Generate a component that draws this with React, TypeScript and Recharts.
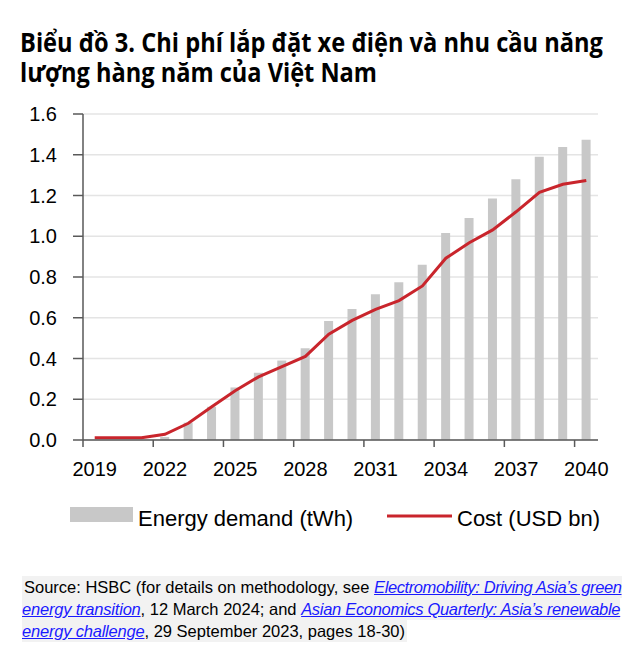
import { useLayoutEffect, useRef, useState } from 'react';
import { Bar, CartesianGrid, ComposedChart, Line, XAxis, YAxis } from 'recharts';

const years = [
  '2019', '2020', '2021', '2022', '2023', '2024', '2025', '2026', '2027', '2028', '2029',
  '2030', '2031', '2032', '2033', '2034', '2035', '2036', '2037', '2038', '2039', '2040',
];
const energyDemand = [
  0, 0, 0, 0.015, 0.085, 0.163, 0.258, 0.33, 0.39, 0.45, 0.584,
  0.643, 0.715, 0.774, 0.86, 1.016, 1.09, 1.185, 1.28, 1.39, 1.438, 1.474,
];
const cost = [
  0.011, 0.011, 0.011, 0.028, 0.082, 0.163, 0.242, 0.31, 0.36, 0.41, 0.519,
  0.587, 0.641, 0.684, 0.756, 0.892, 0.968, 1.031, 1.12, 1.216, 1.255, 1.274,
];
const yTicks = [0, 0.2, 0.4, 0.6, 0.8, 1.0, 1.2, 1.4, 1.6];

const data = years.map((year, i) => ({ year, energy: energyDemand[i], cost: cost[i] }));

const W = 624;
const H = 480;
const margin = { top: 106, right: 34, bottom: 8, left: 0 };
const Y_AXIS_W = 75;
const PLOT_W = W - margin.left - margin.right - Y_AXIS_W;
const BAND = PLOT_W / years.length;

const AXIS = '#595959';
const FONT = '"Liberation Sans", Arial, sans-serif';

const YearTick = (props: any) => {
  const { x, y, payload } = props;
  const bx = x - BAND / 2;
  return (
    <g>
      <line x1={bx} x2={bx} y1={y} y2={y + 7} stroke={AXIS} strokeWidth={1.5} />
      <text x={x} y={y + 22} dy="0.71em" textAnchor="middle" fontSize={20} fill="#000" fontFamily={FONT}>
        {payload.value}
      </text>
    </g>
  );
};

// squeeze a line of text horizontally to a given width (Calibri is narrower than what we have)
function FitLine({ text, width, top }: { text: string; width: number; top: number }) {
  const ref = useRef<HTMLSpanElement>(null);
  const [k, setK] = useState(1);
  useLayoutEffect(() => {
    if (ref.current) setK(width / ref.current.offsetWidth);
  }, [width]);
  return (
    <div style={{ position: 'absolute', left: 12, top, width: 612, height: 27 }}>
      <span
        ref={ref}
        style={{
          display: 'inline-block',
          whiteSpace: 'nowrap',
          fontFamily: '"Open Sans", sans-serif',
          fontWeight: 700,
          fontSize: 27,
          lineHeight: '27px',
          color: '#000',
          transform: `scaleX(${k})`,
          transformOrigin: '0 0',
        }}
      >
        {text}
      </span>
    </div>
  );
}

const link = (spacing: number) =>
  ({
    color: '#1a1aff',
    fontStyle: 'italic',
    textDecoration: 'underline',
    letterSpacing: `${spacing}px`,
  }) as const;

export default function App() {
  return (
    <div style={{ position: 'relative', width: 624, height: 642, background: '#fff', overflow: 'hidden' }}>
      <FitLine text="Biểu đồ 3. Chi phí lắp đặt xe điện và nhu cầu năng" width={583} top={20} />
      <FitLine text="lượng hàng năm của Việt Nam" width={357} top={50} />

      <ComposedChart
        width={W}
        height={H}
        data={data}
        margin={margin}
        style={{ position: 'absolute', left: 0, top: 0 }}
      >
        <CartesianGrid vertical={false} stroke="#e4e4e4" strokeWidth={1.5} />
        <XAxis
          dataKey="year"
          interval={2}
          height={40}
          tickSize={0}
          tickMargin={0}
          tickLine={false}
          axisLine={{ stroke: AXIS, strokeWidth: 1.5 }}
          tick={<YearTick />}
        />
        <YAxis
          width={Y_AXIS_W}
          domain={[0, 1.6]}
          ticks={yTicks}
          interval={0}
          tickSize={10}
          tickMargin={16}
          tickFormatter={(v: number) => v.toFixed(1)}
          axisLine={{ stroke: AXIS, strokeWidth: 1.5 }}
          tickLine={{ stroke: AXIS, strokeWidth: 1.5 }}
          tick={{ fontSize: 20, fill: '#000', fontFamily: FONT }}
        />
        <Bar dataKey="energy" fill="#c8c8c8" barSize={9} isAnimationActive={false} />
        <Line
          type="linear"
          dataKey="cost"
          stroke="#c9252c"
          strokeWidth={3}
          dot={false}
          activeDot={false}
          isAnimationActive={false}
        />
      </ComposedChart>

      <svg width={624} height={40} style={{ position: 'absolute', left: 0, top: 490 }}>
        <rect x={62} y={9} width={63} height={15} fill="#c8c8c8" />
        <text x={130} y={28} fontFamily={FONT} fontSize={22} fill="#000">Energy demand (tWh)</text>
        <line x1={379} x2={444} y1={18} y2={18} stroke="#c9252c" strokeWidth={3} />
        <text x={449} y={28} fontFamily={FONT} fontSize={22} fill="#000">Cost (USD bn)</text>
      </svg>

      <div
        style={{
          position: 'absolute',
          left: 14,
          top: 568,
          fontFamily: FONT,
          fontSize: 16.5,
          lineHeight: '22px',
          color: '#000',
          whiteSpace: 'nowrap',
        }}
      >
        <span style={{ background: '#f2f2f2', padding: '2px 2px' }}>
          Source: HSBC (for details on methodology, see{' '}
          <span style={link(-0.4)}>Electromobility: Driving Asia’s green</span>
          <br />
          <span style={link(-0.2)}>energy transition</span>, 12 March 2024; and{' '}
          <span style={link(-0.3)}>Asian Economics Quarterly: Asia’s renewable</span>
          <br />
          <span style={link(-0.2)}>energy challenge</span>, 29 September 2023, pages 18-30)
        </span>
      </div>
    </div>
  );
}
